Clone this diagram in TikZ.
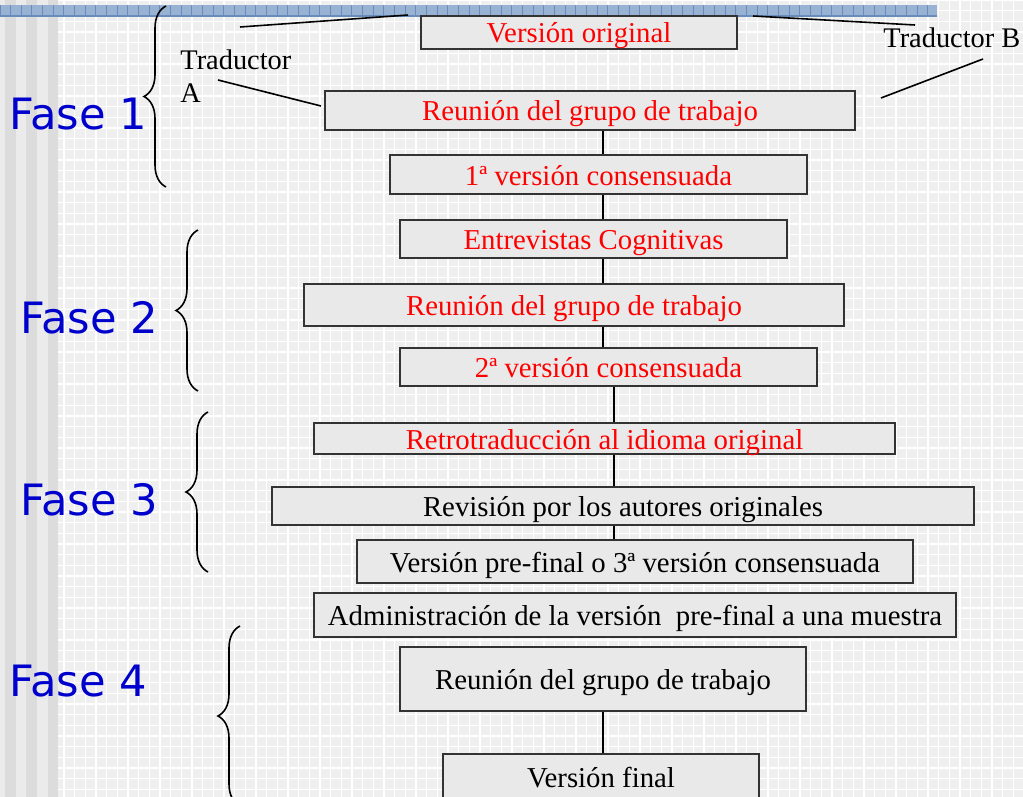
\documentclass[tikz,border=0pt]{standalone}
\usepackage{fontspec}
\setmainfont{Liberation Serif}
\newfontfamily\fasefont{DejaVu Sans}
\usetikzlibrary{decorations.pathreplacing}

\definecolor{fondo}{HTML}{EFEFEF}
\definecolor{franjaclara}{HTML}{EBEBEB}
\definecolor{franjaoscura}{HTML}{DCDCDC}
\definecolor{barra}{HTML}{98B2D4}
\definecolor{barraborde}{HTML}{6A8CBA}
\definecolor{cajagris}{HTML}{E9E9E9}
\definecolor{faseazul}{HTML}{0000CC}

\tikzset{
  caja/.style={draw=black!80,fill=cajagris,line width=0.9pt,inner sep=0pt,
               text height=12pt,text depth=1.5pt,
               font=\fontsize{14.4}{16}\selectfont},
  fase/.style={text=faseazul,font=\fasefont\fontsize{21.6}{25}\selectfont,
               inner sep=0pt,anchor=base west},
  traductor/.style={font=\fontsize{14.2}{16.5}\selectfont,inner sep=0pt,
               anchor=base west,align=left},
  llave/.style={decorate,decoration={brace,amplitude=11pt},line width=0.8pt},
  linea/.style={line width=0.8pt}
}

\begin{document}
\begin{tikzpicture}[x=0.5pt,y=-0.5pt]
\useasboundingbox (0,0) rectangle (1023,797);
\clip (0,0) rectangle (1023,797);

% fondo
\fill[fondo] (0,0) rectangle (1023,797);
\draw[white,line width=0.6pt,step=5.333pt] (58,0) grid (1023,797);
\fill[franjaclara] (0,0) rectangle (58,797);
\fill[franjaoscura] (5,0) rectangle (16,797);
\fill[franjaoscura] (26,0) rectangle (37,797);
\fill[franjaoscura] (48,0) rectangle (58,797);
\fill[barra] (0,5) rectangle (937,16);
\draw[barraborde,line width=0.5pt,xstep=5.333pt,ystep=100pt] (0,5) grid (937,16);
\draw[barraborde,line width=0.6pt] (0,16) -- (937,16);

% cajas
\draw (579,32.5) node[caja,minimum width=158pt,minimum height=16.5pt,text=red](b1){Versión original}
      (590,110.5) node[caja,minimum width=265pt,minimum height=19.5pt,text=red](b2){Reunión del grupo de trabajo}
      (598.5,174.5) node[caja,minimum width=208.5pt,minimum height=19.5pt,text=red](b3){1ª versión consensuada};
\draw (593.5,239) node[caja,minimum width=193.5pt,minimum height=19pt,text=red](b4){Entrevistas Cognitivas}
      (574,305) node[caja,minimum width=270pt,minimum height=21pt,text=red](b5){Reunión del grupo de trabajo}
      (608.5,367) node[caja,minimum width=208.5pt,minimum height=19pt,text=red](b6){2ª versión consensuada};
\draw (604.5,438.5) node[caja,minimum width=290.5pt,minimum height=15.5pt,text=red](b7){Retrotraducción al idioma original}
      (623,506) node[caja,minimum width=351pt,minimum height=19pt](b8){Revisión por los autores originales}
      (635,561.5) node[caja,minimum width=278pt,minimum height=21.5pt](b9){Versión pre-final o 3ª versión consensuada};
\draw (635,615) node[caja,minimum width=321pt,minimum height=22pt](b10){Administración de la versión~ pre-final a una muestra}
      (603,679) node[caja,minimum width=203pt,minimum height=32pt](b11){Reunión del grupo de trabajo}
      (601,777) node[caja,minimum width=158pt,minimum height=23pt](b12){Versión final};

% ejes de los conectores
\coordinate (ejeA) at (603,0);
\coordinate (ejeB) at (614,0);
\path[linea]
    (b2.south -| ejeA) edge node {} (b3.north -| ejeA)
    (b3.south -| ejeA) edge node {} (b4.north -| ejeA)
    (b4.south -| ejeA) edge node {} (b5.north -| ejeA)
    (b5.south -| ejeA) edge node {} (b6.north -| ejeA)
    (b6.south -| ejeB) edge node {} (b7.north -| ejeB)
    (b7.south -| ejeB) edge node {} (b8.north -| ejeB)
    (b8.south -| ejeB) edge node {} (b9.north -| ejeB)
    (b11.south -| ejeA) edge node {} (b12.north -| ejeA);

% traductores
\draw (180,103) node[traductor](tradA){Traductor\\A}
      (883,48) node[traductor](tradB){Traductor B};
\coordinate (la1) at (218,80);  \coordinate (la2) at (321,106);
\coordinate (lb1) at (983,59);  \coordinate (lb2) at (881,98);
\coordinate (sa1) at (240,27);  \coordinate (sa2) at (408,15);
\coordinate (sb1) at (753,16);  \coordinate (sb2) at (915,25);
\path[linea]
    (la1) edge node {} (la2)
    (lb1) edge node {} (lb2)
    (sa1) edge node {} (sa2)
    (sb1) edge node {} (sb2);

% fases
\draw (9,130) node[fase](fase1){Fase 1}
      (20,333) node[fase](fase2){Fase 2}
      (20,515) node[fase](fase3){Fase 3}
      (9,696) node[fase](fase4){Fase 4};
\draw[llave] (166,187) -- (166,6);
\draw[llave] (198,391) -- (198,230);
\draw[llave] (208,572) -- (208,412);
\draw[llave] (240,806) -- (240,626);
\end{tikzpicture}
\end{document}
